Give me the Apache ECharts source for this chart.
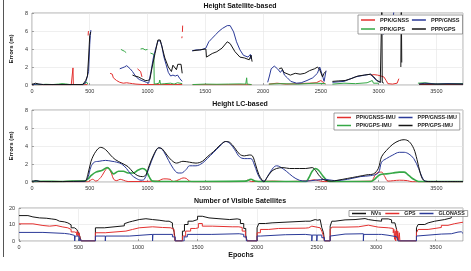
<!DOCTYPE html>
<html>
<head>
<meta charset="utf-8">
<script src="https://cdn.jsdelivr.net/npm/echarts@6/dist/echarts.min.js"></script>
<style>
  html, body { margin: 0; padding: 0; background: #fff; }
  #chart { width: 471px; height: 271px; }
</style>
</head>
<body>
<div id="chart"></div>
<script>
// epochs on x, height error (m) / satellite count on y. [x, null] breaks a line.
const satPpkGnss = [[0,0.03],[340,0.03],[352,0.05],[355,1.9],[358,0.05],[450,0.03],[480,0.05],[482,null],
  [486,5.5],[488,5.9],[490,6.0],[492,null],
  [676,1.3],[685,1.1],[695,1.2],[704,0.8],[718,0.6],[732,0.5],[746,0.35],[760,0.3],[790,0.2],[820,0.25],[843,0.2],[870,0.15],[900,0.1],[960,0.05],[1000,0.05],[1100,0.05],[1300,0.05],[1305,null],
  [913,1.8],[925,1.75],[940,1.5],[952,0.9],[955,null],
  [1297,5.2],[1299,5.4],[1300,null],
  [1302,5.9],[1304,6.6],[1306,null],
  [1390,0.03],[1900,0.03],[1905,null],
  [2050,0.1],[2120,0.2],[2200,0.1],[2300,0.15],[2400,0.2],[2460,0.25],[2500,0.5],[2520,0.3],[2540,0.1],[2545,null],
  [2930,1.1],[2960,1.15],[2990,1.1],[3020,1.0],[3045,0.9],[3065,0.5],[3080,0.15],[3120,0.1],[3160,0.2],[3175,0.7],[3180,null],
  [3350,0.05],[3730,0.05]]
const satPpkGps = [[0,0.05],[60,0.03],[120,0.08],[180,0.05],[230,0.1],[260,0.15],[290,0.12],[330,0.05],[420,0.05],[450,0.1],[466,0.25],[475,0.3],[482,0.1],[485,null],
  [770,3.95],[785,3.85],[800,3.75],[815,3.6],[818,null],
  [940,4.0],[960,4.05],[980,3.9],[1000,3.95],[1003,null],
  [1025,3.55],[1040,3.5],[1055,3.4],[1058,0.1],[1080,0.15],[1100,0.2],[1106,0.55],[1112,0.1],[1150,0.15],[1200,0.2],[1230,0.1],[1260,0.25],[1300,0.15],[1305,null],
  [1390,0.05],[1500,0.1],[1600,0.08],[1700,0.1],[1800,0.12],[1850,0.1],[1858,0.8],[1862,0.1],[1900,0.05],[1905,null],
  [2050,0.1],[2150,0.15],[2300,0.1],[2450,0.2],[2540,0.15],[2545,null],
  [2600,0.1],[2700,0.2],[2800,0.15],[2900,0.25],[2945,0.5],[2955,0.2],[3000,0.2],[3005,null],
  [3340,0.2],[3400,0.25],[3500,0.1],[3600,0.15],[3730,0.15]]
const satPppGnss = [[0,0.05],[50,0.1],[100,0.05],[440,0.05],[460,0.2],[470,0.5],[480,0.3],[490,1.5],[495,3.0],[500,4.5],[505,5.5],[510,6.1],[512,null],
  [760,1.8],[770,2.0],[780,1.9],[800,2.0],[820,2.15],[835,2.05],[850,1.8],[870,1.5],[890,1.1],[910,0.8],[930,0.6],[960,0.45],[990,0.3],[1010,0.2],[1030,1.5],[1050,3.0],[1070,4.0],[1090,4.9],[1110,4.9],[1125,4.3],[1140,3.2],[1160,2.3],[1180,1.4],[1200,1.0],[1220,1.1],[1240,1.0],[1260,1.1],[1280,0.7],[1300,0.4],[1305,null],
  [1385,3.8],[1420,3.9],[1460,3.9],[1505,4.1],[1530,4.8],[1560,5.2],[1590,5.6],[1620,6.0],[1650,6.3],[1690,6.6],[1715,6.6],[1745,5.9],[1770,4.8],[1800,3.9],[1830,3.3],[1870,3.1],[1890,3.4],[1895,2.9],[1900,3.3],[1905,null],
  [2040,0.3],[2055,1.0],[2070,1.8],[2097,2.1],[2125,1.8],[2150,1.4],[2167,1.7],[2185,1.1],[2210,0.8],[2240,0.4],[2290,0.2],[2330,0.25],[2380,0.5],[2430,0.8],[2470,1.3],[2490,2.0],[2510,1.2],[2528,0.4],[2545,1.6],[2548,null],
  [2600,0.3],[2700,0.4],[2800,0.9],[2880,1.1],[2930,1.2],[2980,0.5],[3020,0.3],[3025,null],
  [3040,5.6],[3070,6.0],[3100,6.5],[3120,7.0],[3135,8.5],[3140,null],
  [3350,0.1],[3400,0.2],[3500,0.1],[3600,0.15],[3730,0.1]]
const satPppGps = [[0,0.05],[30,0.2],[60,0.1],[100,0.05],[440,0.05],[465,0.5],[480,1.0],[490,3.0],[500,5.5],[508,5.9],[510,null],
  [870,1.1],[890,1.0],[920,0.9],[950,0.7],[980,0.5],[1000,0.5],[1020,0.6],[1040,2.0],[1065,3.5],[1090,5.0],[1110,5.0],[1120,4.5],[1150,3.0],[1180,2.0],[1195,2.2],[1207,1.5],[1220,2.2],[1250,1.7],[1262,2.3],[1290,2.3],[1300,1.3],[1305,null],
  [1390,3.8],[1450,3.9],[1505,4.0],[1510,3.1],[1560,3.5],[1600,3.7],[1645,4.1],[1690,4.8],[1715,4.6],[1757,3.7],[1800,3.1],[1840,3.0],[1880,2.8],[1895,3.3],[1905,2.6],[1908,null],
  [2139,1.8],[2160,1.9],[2180,1.4],[2236,1.1],[2278,1.3],[2320,1.2],[2361,1.3],[2403,1.6],[2445,1.8],[2472,2.0],[2490,1.7],[2514,0.9],[2528,1.3],[2542,1.5],[2545,null],
  [2600,0.4],[2650,0.45],[2710,0.5],[2760,0.7],[2820,1.0],[2875,1.1],[2930,1.2],[2958,0.9],[2986,0.5],[3014,0.3],[3025,0.3],[3028,9],[3031,0.3],[3045,0.2],[3048,null],
  [3192,2.0],[3196,9],[3200,2.5],[3203,null],
  [3350,0.1],[3730,0.1]]

const lcPpkGnss = [[0,0.02],[200,0.03],[480,0.03],[525,0.3],[553,0.1],[595,0.5],[620,1.0],[640,1.4],[659,1.6],[675,1.3],[690,0.9],[707,0.3],[734,0.15],[763,0.3],[791,0.2],[832,0.05],[1084,0.1],[1140,0.35],[1196,0.3],[1223,0.05],[1279,0.3],[1307,0.45],[1335,0.4],[1363,0.1],[1400,0.03],[1840,0.05],[1866,0.2],[1900,0.05],[2089,0.1],[2201,0.05],[2400,0.15],[2440,0.25],[2480,0.15],[2530,0.05],[2940,0.1],[2955,0.4],[2983,1.0],[3025,1.1],[3053,0.6],[3081,0.1],[3130,0.15],[3179,0.2],[3249,0.15],[3290,0.03],[3730,0.02]]
const lcPpkGps = [[0,0.05],[100,0.08],[250,0.05],[350,0.1],[455,0.1],[490,0.4],[511,0.7],[553,1.1],[609,1.3],[651,1.6],[679,1.3],[707,0.9],[749,1.2],[791,1.2],[832,1.0],[874,1.0],[916,1.3],[958,1.5],[986,1.3],[1014,0.6],[1042,0.1],[1100,0.05],[1850,0.1],[1894,0.3],[1930,0.1],[1960,0.05],[2370,0.05],[2397,0.5],[2425,1.2],[2453,1.5],[2480,1.3],[2522,0.6],[2564,0.1],[2600,0.05],[2930,0.05],[2955,0.2],[3011,0.8],[3067,0.9],[3123,1.0],[3179,1.1],[3221,1.1],[3263,0.7],[3304,0.3],[3346,0.05],[3730,0.05]]
const lcPppGnss = [[0,0.05],[40,0.12],[80,0.05],[450,0.05],[483,0.5],[511,1.7],[539,2.2],[581,2.3],[637,2.4],[693,2.3],[734,2.2],[776,2.0],[818,1.5],[860,0.8],[902,0.4],[944,0.2],[972,0.3],[1014,1.6],[1056,3.0],[1098,3.8],[1120,3.7],[1140,3.4],[1182,2.4],[1223,1.5],[1265,1.0],[1293,1.0],[1335,1.4],[1363,1.8],[1419,1.8],[1475,2.1],[1517,2.6],[1573,3.3],[1628,4.0],[1676,4.5],[1712,4.3],[1754,3.6],[1796,2.8],[1838,2.6],[1894,2.6],[1922,2.0],[1950,1.0],[1978,0.3],[2006,0.1],[2047,0.8],[2089,1.6],[2117,1.8],[2145,1.7],[2201,1.2],[2257,0.6],[2313,0.2],[2369,0.1],[2453,0.2],[2536,0.3],[2620,0.15],[2732,0.3],[2844,0.6],[2927,0.7],[2997,1.0],[3025,2.2],[3067,2.6],[3123,3.0],[3179,3.3],[3221,3.3],[3263,3.1],[3304,2.6],[3346,1.5],[3374,0.6],[3402,0.1],[3450,0.05],[3730,0.05]]
const lcPppGps = [[0,0.05],[36,0.15],[70,0.05],[455,0.1],[483,0.8],[511,2.3],[553,3.4],[595,3.85],[637,3.6],[679,3.0],[720,2.5],[776,2.1],[832,1.7],[874,1.1],[916,0.7],[958,0.6],[986,0.8],[1014,1.8],[1056,3.1],[1098,3.8],[1126,3.7],[1168,3.0],[1209,2.4],[1251,2.1],[1307,2.3],[1363,2.2],[1419,2.1],[1475,2.3],[1517,2.8],[1573,3.4],[1628,4.1],[1676,4.5],[1712,4.4],[1754,3.8],[1796,3.1],[1838,2.9],[1880,3.0],[1908,2.9],[1936,1.9],[1964,0.8],[1992,0.2],[2006,0.0],[2034,0.5],[2075,1.2],[2117,1.5],[2173,1.6],[2229,1.5],[2313,1.5],[2369,1.5],[2425,1.6],[2453,1.3],[2480,0.8],[2508,0.4],[2536,0.2],[2592,0.1],[2648,0.2],[2732,0.4],[2816,0.6],[2899,0.8],[2955,0.9],[2997,1.5],[3025,2.8],[3067,3.5],[3123,4.2],[3179,4.6],[3221,4.7],[3263,4.5],[3304,3.7],[3332,2.5],[3360,1.0],[3388,0.2],[3430,0.05],[3730,0.05]]

const nvs = [[0,15.4],[75,14.6],[117,14],[173,13.8],[229,13.4],[271,13],[312,12],[340,11.6],[382,11],[410,9.8],[438,8],[466,7],[485,6],[495,7],[500,5],[508,4],[515,2],[522,0],[642,8],[717,9.2],[885,10.5],[898,11.5],[926,12],[954,13],[1010,13.5],[1066,13],[1122,12.6],[1177,12],[1233,12],[1261,11],[1289,9],[1305,5],[1312,0],[1373,6],[1390,10],[1420,12],[1460,13],[1500,15],[1540,14],[1596,13.5],[1680,13],[1770,13.4],[1833,13],[1860,10.6],[1888,7.6],[1905,3.6],[1916,0],[2000,8],[2014,10.6],[2070,11],[2126,12],[2405,12.6],[2419,12],[2446,11],[2460,13],[2488,12.6],[2510,13],[2530,12],[2544,8],[2558,5],[2566,0],[2614,9],[2628,12],[2655,12.8],[2739,13],[2823,13.6],[2907,13],[2935,12.4],[2990,12],[3046,13.4],[3102,12.8],[3130,11],[3158,10],[3172,7],[3186,0],[3339,8],[3353,10],[3409,11],[3437,12],[3493,13],[3576,14],[3632,15.8],[3730,15.8]]
const gps = [[0,10.4],[117,9.4],[201,9],[257,9.4],[312,8.5],[368,8],[410,7],[438,5.5],[466,5],[485,3.5],[490,6],[495,3],[505,5],[512,2],[522,0],[642,5],[725,6],[898,6.5],[912,7],[954,8],[1010,8.6],[1122,8.2],[1205,8],[1275,7],[1303,4],[1312,0],[1373,3],[1400,6],[1442,7.6],[1484,8],[1507,10.6],[1540,9],[1624,8.6],[1791,8.6],[1847,8.2],[1875,6],[1902,3],[1916,0],[2000,5],[2028,7],[2098,7.6],[2181,7.8],[2405,8],[2433,9],[2460,8],[2530,8.2],[2544,6],[2558,3],[2566,0],[2614,7],[2628,8.4],[2739,8.6],[2851,9.6],[2935,8.4],[3018,8],[3102,7.6],[3144,5],[3150,7],[3155,1],[3160,6],[3165,0],[3170,7],[3176,2],[3182,6],[3188,0],[3195,5],[3200,0],[3339,5],[3353,7],[3437,8.2],[3548,9.5],[3604,10.5],[3660,11.4],[3730,11.4]]
const glonass = [[0,5.2],[201,4.6],[382,4.2],[424,3.4],[466,3],[468,0],[472,3],[502,2],[505,0],[508,2],[522,0],[642,3],[725,0],[728,3],[898,3],[926,4],[1122,0],[1125,4],[1289,2.5],[1312,0],[1387,2.5],[1414,4],[1620,4.4],[1850,4.4],[1860,4],[1888,2.5],[1910,0],[2000,3],[2028,3.8],[2237,4],[2405,3.6],[2460,0],[2463,3.6],[2502,0],[2505,3.6],[2544,2],[2566,0],[2614,3],[2628,4.2],[2739,4.4],[2893,0],[2896,4],[3018,4],[3046,3.5],[3100,2.6],[3172,2],[3186,0],[3339,3],[3353,4.2],[3548,4.4],[3632,5.4],[3688,5.6],[3716,4.6],[3730,4.6]]

const titles = ['Height Satellite-based', 'Height LC-based', 'Number of Visible Satellites']
const epochMax = 3730

const RED = '#e3302f', GREEN = '#35a846', BLUE = '#2b3a98', BLACK = '#151515'
const FONT = 'Liberation Sans, Arial, sans-serif'

const chart = echarts.init(document.getElementById('chart'), null, { renderer: 'canvas', width: 471, height: 271 })

const gridBox = [
  { top: 13, height: 72 },
  { top: 110, height: 72 },
  { top: 208, height: 33 }
]

const xAxisFor = (i) => ({
  gridIndex: i,
  type: 'value',
  min: 0,
  max: epochMax,
  interval: 500,
  axisLine: { show: false },
  axisTick: { show: true, inside: true, length: 2, lineStyle: { color: '#666', width: 0.6 } },
  axisLabel: { fontSize: 5.5, color: '#333', margin: 3, fontFamily: FONT, showMaxLabel: false, formatter: v => String(v) },
  splitLine: { show: true, lineStyle: { color: '#e4e4e4', width: 0.6 } },
  name: i === 2 ? 'Epochs' : '',
  nameLocation: 'middle',
  nameGap: 11,
  nameTextStyle: { fontSize: 7, fontWeight: 'bold', color: '#111', fontFamily: FONT }
})

const yAxisFor = (i) => ({
  gridIndex: i,
  type: 'value',
  min: 0,
  max: i === 2 ? 20 : 8,
  interval: i === 2 ? 10 : 2,
  axisLine: { show: false },
  axisTick: { show: true, inside: true, length: 2, lineStyle: { color: '#666', width: 0.6 } },
  axisLabel: { fontSize: 5.5, color: '#333', margin: 4, fontFamily: FONT },
  splitLine: { show: true, lineStyle: { color: '#e4e4e4', width: 0.6 } },
  name: i === 2 ? '' : 'Errors (m)',
  nameLocation: 'middle',
  nameGap: 9,
  nameRotate: 90,
  nameTextStyle: { fontSize: 6, fontWeight: 'bold', color: '#111', fontFamily: FONT }
})

const lineSeries = (name, data, color, idx, extra) => Object.assign({
  name,
  type: 'line',
  data,
  xAxisIndex: idx,
  yAxisIndex: idx,
  showSymbol: false,
  symbol: 'none',
  clip: true,
  lineStyle: { color, width: 1 },
  itemStyle: { color },
  animation: false
}, extra || {})

const legendBase = {
  icon: 'rect',
  itemHeight: 1.5,
  backgroundColor: '#fff',
  borderColor: '#777',
  borderWidth: 0.7,
  selectedMode: false,
  textStyle: { fontSize: 5.6, fontWeight: 'bold', color: '#222', fontFamily: FONT }
}

const option = {
  backgroundColor: '#fff',
  animation: false,
  title: [
    { text: titles[0], left: 240, top: 3 },
    { text: titles[1], left: 240, top: 101 },
    { text: titles[2], left: 240, top: 197.5 }
  ].map(t => Object.assign(t, {
    textAlign: 'center',
    padding: 0,
    textStyle: { fontSize: 7, fontWeight: 'bold', color: '#111', fontFamily: FONT }
  })),
  grid: gridBox.map(g => ({
    left: 19, right: 8, top: g.top, height: g.height,
    show: true, borderColor: '#8a8a8a', borderWidth: 0.7, backgroundColor: '#fff'
  })),
  xAxis: [0, 1, 2].map(xAxisFor),
  yAxis: [0, 1, 2].map(yAxisFor),
  legend: [
    Object.assign({}, legendBase, {
      data: ['PPK/GNSS', 'PPK/GPS', 'PPP/GNSS', 'PPP/GPS'],
      orient: 'vertical', left: 358, top: 15, height: 15,
      itemWidth: 14, itemGap: 3, padding: [2, 3]
    }),
    Object.assign({}, legendBase, {
      data: ['PPK/GNSS-IMU', 'PPK/GPS-IMU', 'PPP/GNSS-IMU', 'PPP/GPS-IMU'],
      orient: 'vertical', left: 334, top: 113, height: 15,
      itemWidth: 14, itemGap: 3, padding: [2, 3],
      textStyle: Object.assign({}, legendBase.textStyle, { fontSize: 5.4 })
    }),
    Object.assign({}, legendBase, {
      data: ['NVs', 'GPS', 'GLONASS'],
      orient: 'horizontal', left: 349, top: 210.5,
      itemWidth: 14, itemGap: 4, padding: [0.5, 3],
      textStyle: Object.assign({}, legendBase.textStyle, { fontSize: 5.3 })
    })
  ],
  graphic: [{
    type: 'line', shape: { x1: 3.5, y1: 0, x2: 3.5, y2: 257 },
    style: { stroke: '#555', lineWidth: 1 }, silent: true
  }],
  series: [
    lineSeries('PPK/GNSS', satPpkGnss, RED, 0),
    lineSeries('PPK/GPS', satPpkGps, GREEN, 0),
    lineSeries('PPP/GNSS', satPppGnss, BLUE, 0),
    lineSeries('PPP/GPS', satPppGps, BLACK, 0),
    lineSeries('PPK/GNSS-IMU', lcPpkGnss, RED, 1, { smooth: 0.35 }),
    lineSeries('PPK/GPS-IMU', lcPpkGps, GREEN, 1, { smooth: 0.35, lineStyle: { color: GREEN, width: 1.6 } }),
    lineSeries('PPP/GNSS-IMU', lcPppGnss, BLUE, 1, { smooth: 0.35 }),
    lineSeries('PPP/GPS-IMU', lcPppGps, BLACK, 1, { smooth: 0.35 }),
    lineSeries('NVs', nvs, BLACK, 2, { step: 'end' }),
    lineSeries('GPS', gps, RED, 2, { step: 'end' }),
    lineSeries('GLONASS', glonass, BLUE, 2, { step: 'end' })
  ]
}

chart.setOption(option)
</script>
</body>
</html>
